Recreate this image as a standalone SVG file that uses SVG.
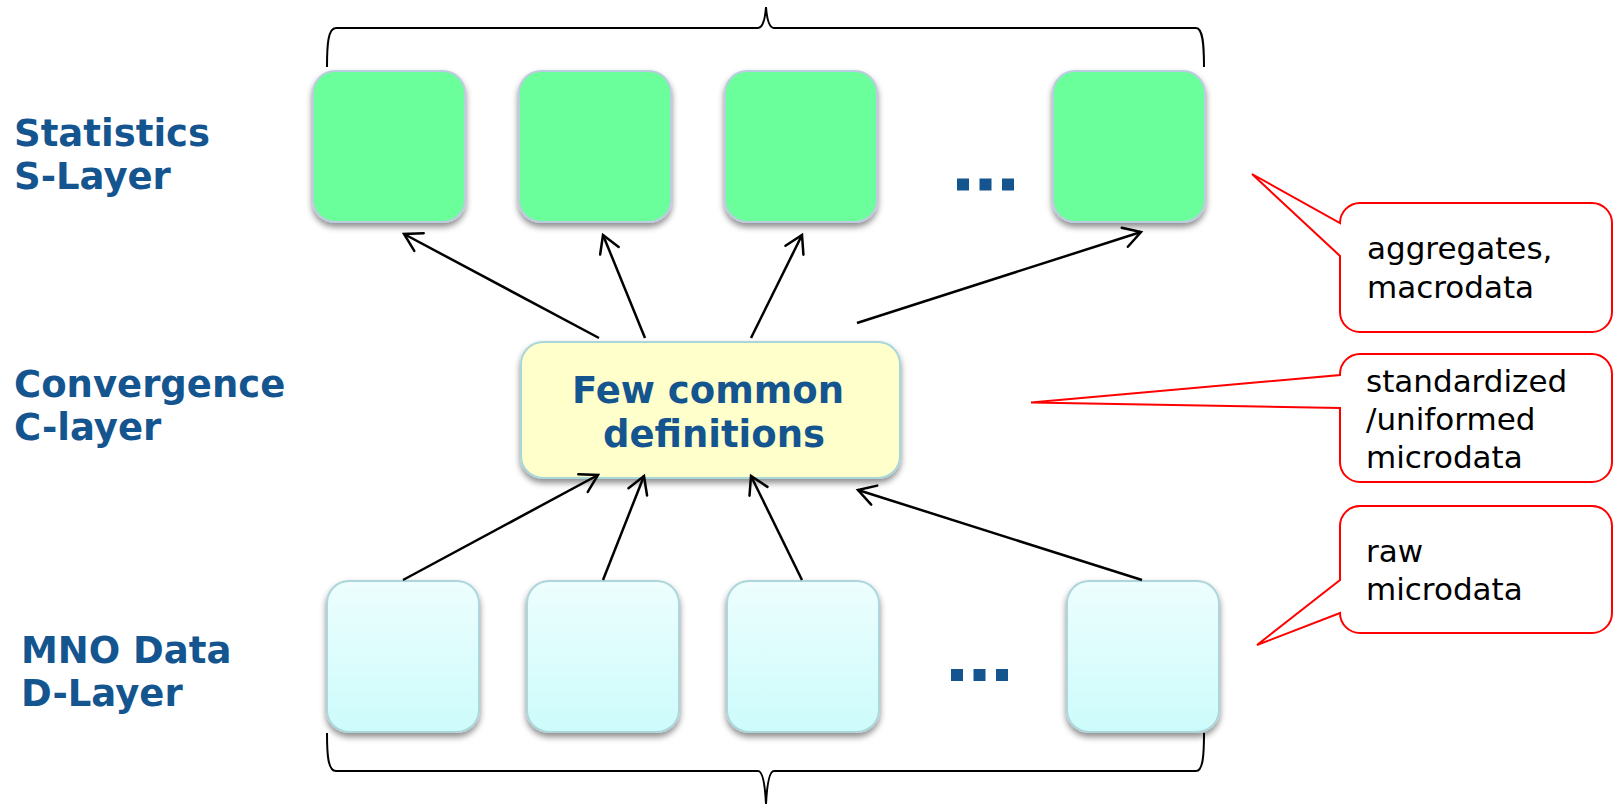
<svg xmlns="http://www.w3.org/2000/svg" width="1618" height="804" viewBox="0 0 1618 804">
<style>
.lbl{font-family:"DejaVu Sans",Verdana,sans-serif;font-weight:bold;font-size:37px;fill:#14558F}
.mid{font-family:"DejaVu Sans",Verdana,sans-serif;font-weight:bold;font-size:37px;fill:#14558F}
.note{font-family:"DejaVu Sans",Verdana,sans-serif;font-size:31px;fill:#000}
.sbox{fill:#6AFF9A;stroke:#BCCCE0;stroke-width:2}
.dbox{fill:url(#dgrad);stroke:#AED6DA;stroke-width:2}
.cbox{fill:#FFFFCC;stroke:#A9D6DA;stroke-width:2}
.call{fill:#fff;stroke:#FF0000;stroke-width:2;stroke-linejoin:miter}
.arr{stroke:#000;stroke-width:2.5;fill:none;marker-end:url(#ah)}
.brace{stroke:#000;stroke-width:2;fill:none}
.dot{fill:#14558F}
</style>
<defs>
<linearGradient id="dgrad" x1="0" y1="0" x2="0" y2="1">
<stop offset="0" stop-color="#EDFEFE"/>
<stop offset="1" stop-color="#CDFBFB"/>
</linearGradient>
<filter id="sh" x="-20%" y="-20%" width="140%" height="150%">
<feDropShadow dx="0" dy="4" stdDeviation="3" flood-color="#000" flood-opacity="0.45"/>
</filter>
<marker id="ah" markerUnits="userSpaceOnUse" viewBox="-20 -12 24 24" refX="0" refY="0" markerWidth="24" markerHeight="24" orient="auto">
<path d="M-17,-10 L0,0 L-17,10" fill="none" stroke="#000" stroke-width="2.5" stroke-linecap="round" stroke-linejoin="miter"/>
</marker>
</defs>
<rect width="1618" height="804" fill="#fff"/>

<g id="labels">
<text class="lbl" x="14" y="146">Statistics</text>
<text class="lbl" x="14" y="189">S-Layer</text>
<text class="lbl" x="14" y="397">Convergence</text>
<text class="lbl" x="14" y="440">C-layer</text>
<text class="lbl" x="21" y="663">MNO Data</text>
<text class="lbl" x="21" y="706">D-Layer</text>
</g>

<g id="braces">
<path class="brace" d="M327,67 C327,45 328,28 336,28 L758,28 C763,28 765,20 766,7 C767,20 769,28 774,28 L1196,28 C1203,28 1204,45 1204,67"/>
<path class="brace" d="M327,733 C327,755 328,771 336,771 L758,771 C763,771 765,785 766,804 C767,785 769,771 774,771 L1196,771 C1203,771 1204,755 1204,733"/>
</g>

<g id="s1"><rect class="sbox" filter="url(#sh)" x="313" y="71" width="152" height="151" rx="22"/></g>
<g id="s2"><rect class="sbox" filter="url(#sh)" x="519" y="71" width="152" height="151" rx="22"/></g>
<g id="s3"><rect class="sbox" filter="url(#sh)" x="725" y="71" width="152" height="151" rx="22"/></g>
<g id="s4"><rect class="sbox" filter="url(#sh)" x="1053" y="71" width="152" height="151" rx="22"/></g>
<g id="sdots">
<rect class="dot" x="957" y="178.5" width="12" height="12"/>
<rect class="dot" x="979.5" y="178.5" width="12" height="12"/>
<rect class="dot" x="1002" y="178.5" width="12" height="12"/>
</g>

<g id="conv">
<rect class="cbox" filter="url(#sh)" x="521" y="342" width="379" height="136" rx="22"/>
<text class="mid" x="708" y="403" text-anchor="middle">Few common</text>
<text class="mid" x="714" y="447" text-anchor="middle">definitions</text>
</g>

<g id="d1"><rect class="dbox" filter="url(#sh)" x="327" y="581" width="152" height="151" rx="22"/></g>
<g id="d2"><rect class="dbox" filter="url(#sh)" x="527" y="581" width="152" height="151" rx="22"/></g>
<g id="d3"><rect class="dbox" filter="url(#sh)" x="727" y="581" width="152" height="151" rx="22"/></g>
<g id="d4"><rect class="dbox" filter="url(#sh)" x="1067" y="581" width="152" height="151" rx="22"/></g>
<g id="ddots">
<rect class="dot" x="951" y="669" width="12" height="12"/>
<rect class="dot" x="973.5" y="669" width="12" height="12"/>
<rect class="dot" x="996" y="669" width="12" height="12"/>
</g>

<g id="connectors">
<line class="arr" x1="599" y1="338" x2="404" y2="234"/>
<line class="arr" x1="645" y1="338" x2="603" y2="235"/>
<line class="arr" x1="751" y1="338" x2="802" y2="235"/>
<line class="arr" x1="857" y1="323" x2="1141" y2="232"/>
<line class="arr" x1="403" y1="580" x2="598" y2="475"/>
<line class="arr" x1="603" y1="580" x2="644" y2="476"/>
<line class="arr" x1="802" y1="580" x2="751" y2="476"/>
<line class="arr" x1="1142" y1="580" x2="858" y2="490"/>
</g>

<g id="callout1">
<path class="call" d="M1360,203 H1592 A20,20 0 0 1 1612,223 V312 A20,20 0 0 1 1592,332 H1360 A20,20 0 0 1 1340,312 V256 L1252,174 L1340,223 A20,20 0 0 1 1360,203 Z"/>
<text class="note" x="1367" y="259">aggregates,</text>
<text class="note" x="1367" y="298">macrodata</text>
</g>
<g id="callout2">
<path class="call" d="M1360,354 H1592 A20,20 0 0 1 1612,374 V462 A20,20 0 0 1 1592,482 H1360 A20,20 0 0 1 1340,462 V408 L1031,402.5 L1340,375 V374 A20,20 0 0 1 1360,354 Z"/>
<text class="note" x="1366" y="392">standardized</text>
<text class="note" x="1366" y="430">/uniformed</text>
<text class="note" x="1366" y="468">microdata</text>
</g>
<g id="callout3">
<path class="call" d="M1360,506 H1592 A20,20 0 0 1 1612,526 V613 A20,20 0 0 1 1592,633 H1360 A20,20 0 0 1 1340,613 L1257,645 L1340,580 V526 A20,20 0 0 1 1360,506 Z"/>
<text class="note" x="1366" y="562">raw</text>
<text class="note" x="1366" y="600">microdata</text>
</g>
</svg>
